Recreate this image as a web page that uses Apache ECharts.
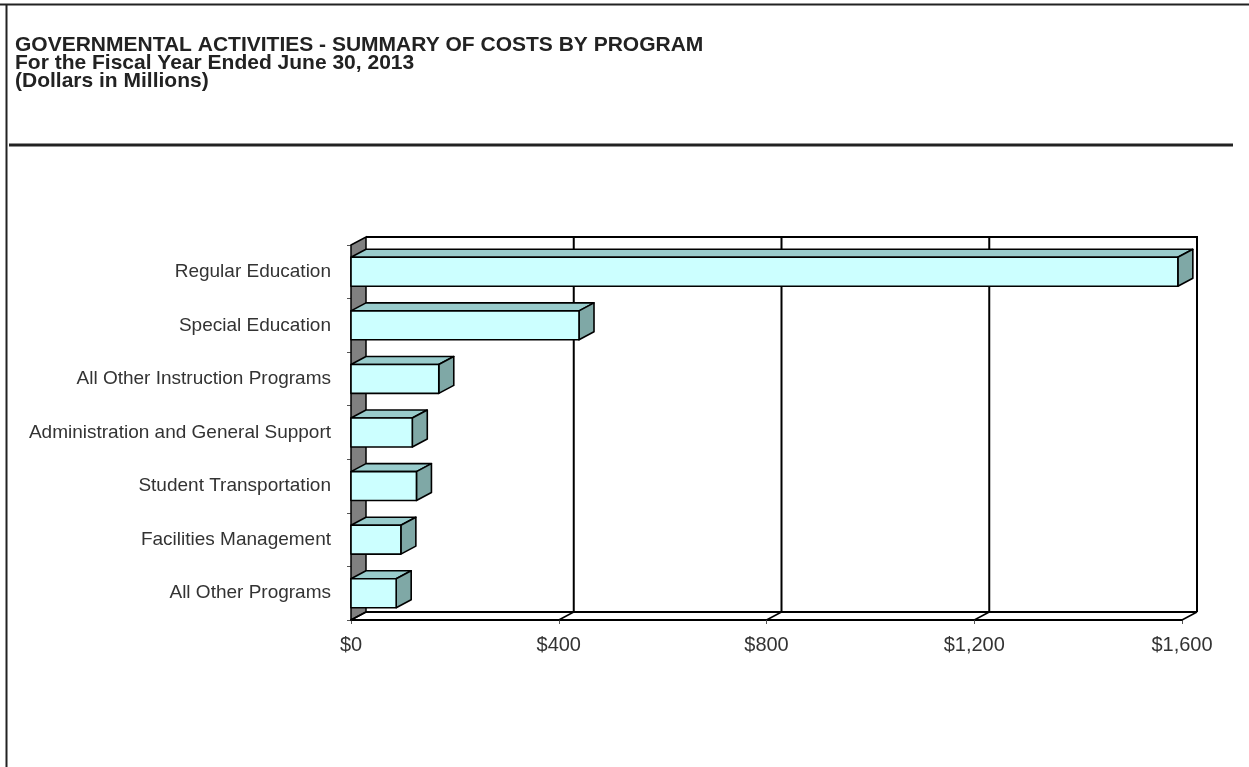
<!DOCTYPE html>
<html>
<head>
<meta charset="utf-8">
<title>Governmental Activities - Summary of Costs by Program</title>
<script src="https://cdn.jsdelivr.net/npm/echarts@6/dist/echarts.min.js"></script>
<style>
  html, body { margin: 0; padding: 0; background: #fff; }
  #chart { width: 1249px; height: 767px; }
</style>
</head>
<body>
<div id="chart"></div>
<script>
// Program categories, top to bottom
const categories = [
  'Regular Education',
  'Special Education',
  'All Other Instruction Programs',
  'Administration and General Support',
  'Student Transportation',
  'Facilities Management',
  'All Other Programs'
];
// Cost of each program, dollars in millions
const costs = [1592, 439, 169, 118, 126, 96, 87];
// Value axis ticks
const axisTicks = [0, 400, 800, 1200, 1600];

const FONT = '"Liberation Sans", Arial, Helvetica, sans-serif';
// Perspective offset of the back plane (pixels)
const DX = 15, DY = -8;
const EDGE = '#000';

const axisMax = axisTicks[axisTicks.length - 1];
const axisStep = axisTicks[1] - axisTicks[0];

function bandInfo(api) {
  const band = api.size([0, 1])[1];
  const yTop = api.coord([0, 0])[1] - band / 2;
  const yBot = api.coord([0, categories.length - 1])[1] + band / 2;
  return { band, yTop, yBot };
}

// Walls, floor and back-wall gridlines of the 3D frame
function renderFrame(params, api) {
  const v = api.value(0);
  const { yTop, yBot } = bandInfo(api);
  const x0 = api.coord([0, 0])[0];
  const xEnd = api.coord([axisMax, 0])[0];
  const x = api.coord([v, 0])[0];
  const children = [];
  if (params.dataIndex === 0) {
    children.push({
      type: 'polygon',
      shape: { points: [[x0, yTop], [x0 + DX, yTop + DY], [x0 + DX, yBot + DY], [x0, yBot]] },
      style: { fill: '#808080', stroke: EDGE, lineWidth: 1.5 }
    });
    children.push({
      type: 'polyline',
      shape: { points: [[x0 + DX, yTop + DY], [xEnd + DX, yTop + DY], [xEnd + DX, yBot + DY]] },
      style: { fill: null, stroke: EDGE, lineWidth: 2 }
    });
    children.push({
      type: 'line',
      shape: { x1: x0 + DX, y1: yBot + DY, x2: xEnd + DX, y2: yBot + DY },
      style: { stroke: EDGE, lineWidth: 2 }
    });
  }
  if (v > 0 && v < axisMax) {
    children.push({
      type: 'line',
      shape: { x1: x + DX, y1: yTop + DY, x2: x + DX, y2: yBot + DY },
      style: { stroke: EDGE, lineWidth: 2 }
    });
  }
  children.push({
    type: 'line',
    shape: { x1: x, y1: yBot, x2: x + DX, y2: yBot + DY },
    style: { stroke: EDGE, lineWidth: 1.5 }
  });
  return { type: 'group', children };
}

// 3D bar: front face, top face, right side face
function renderBar(params, api) {
  const idx = api.value(1);
  const p0 = api.coord([0, idx]);
  const p1 = api.coord([api.value(0), idx]);
  const band = api.size([0, 1])[1];
  const h = band * 0.54;
  const yT = p0[1] - h / 2;
  const yB = p0[1] + h / 2;
  const xa = p0[0], xb = p1[0];
  const lw = 1.6;
  return {
    type: 'group',
    children: [
      {
        type: 'polygon',
        shape: { points: [[xa, yT], [xb, yT], [xb + DX, yT + DY], [xa + DX, yT + DY]] },
        style: { fill: '#99cccc', stroke: EDGE, lineWidth: lw, lineJoin: 'round' }
      },
      {
        type: 'polygon',
        shape: { points: [[xb, yT], [xb + DX, yT + DY], [xb + DX, yB + DY], [xb, yB]] },
        style: { fill: '#7fa8a6', stroke: EDGE, lineWidth: lw, lineJoin: 'round' }
      },
      {
        type: 'rect',
        shape: { x: xa, y: yT, width: xb - xa, height: yB - yT },
        style: { fill: '#ccffff', stroke: EDGE, lineWidth: lw, lineJoin: 'round' }
      }
    ]
  };
}

const chart = echarts.init(document.getElementById('chart'), null, { renderer: 'canvas' });

chart.setOption({
  backgroundColor: '#ffffff',
  animation: false,
  title: {
    text: 'GOVERNMENTAL ACTIVITIES - SUMMARY OF COSTS BY PROGRAM\nFor the Fiscal Year Ended June 30, 2013\n(Dollars in Millions)',
    left: 15,
    top: 36,
    padding: 0,
    textStyle: {
      fontFamily: FONT,
      fontSize: 21,
      fontWeight: 'bold',
      lineHeight: 18,
      color: '#222'
    }
  },
  graphic: [
    { type: 'line', shape: { x1: 0, y1: 4.5, x2: 1249, y2: 4.5 }, style: { stroke: '#222', lineWidth: 2 } },
    { type: 'line', shape: { x1: 6.5, y1: 4, x2: 6.5, y2: 767 }, style: { stroke: '#222', lineWidth: 2 } },
    { type: 'line', shape: { x1: 9, y1: 145, x2: 1233, y2: 145 }, style: { stroke: '#222', lineWidth: 3 } }
  ],
  grid: { left: 351, right: 67, top: 245, bottom: 147 },
  xAxis: {
    type: 'value',
    min: 0,
    max: axisMax,
    interval: axisStep,
    axisLine: { show: true, lineStyle: { color: '#000', width: 2 } },
    axisTick: { show: true, length: 4, lineStyle: { color: '#555', width: 1 } },
    splitLine: { show: false },
    axisLabel: {
      margin: 15,
      fontFamily: FONT,
      fontSize: 20,
      color: '#333',
      formatter: v => '$' + v.toLocaleString('en-US')
    }
  },
  yAxis: {
    type: 'category',
    data: categories,
    inverse: true,
    axisLine: { show: false },
    axisTick: { show: true, length: 4, lineStyle: { color: '#555', width: 1 } },
    splitLine: { show: false },
    axisLabel: {
      margin: 20,
      fontFamily: FONT,
      fontSize: 19,
      color: '#333'
    }
  },
  series: [
    {
      type: 'custom',
      name: 'frame',
      silent: true,
      clip: false,
      z: 1,
      renderItem: renderFrame,
      encode: { x: 0, y: 1 },
      data: axisTicks.map(t => [t, 0])
    },
    {
      type: 'custom',
      name: 'Cost',
      clip: false,
      z: 2,
      renderItem: renderBar,
      encode: { x: 0, y: 1 },
      data: costs.map((c, i) => [c, i])
    }
  ]
});
</script>
</body>
</html>
